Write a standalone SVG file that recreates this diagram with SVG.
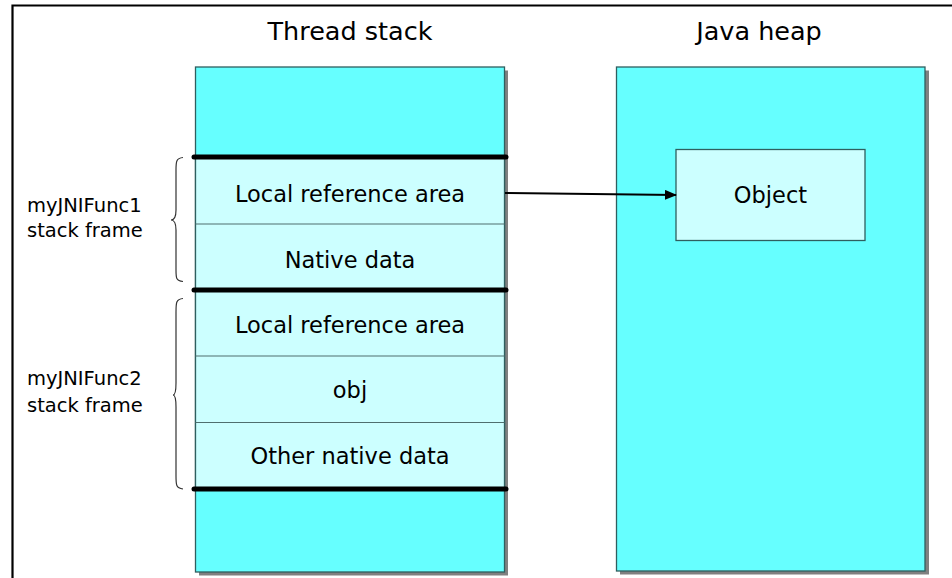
<svg xmlns="http://www.w3.org/2000/svg" width="952" height="578" viewBox="0 0 952 578">
<style>
.t{font-family:"DejaVu Sans",Verdana,sans-serif;fill:#000}
.title{font-size:25.5px;text-anchor:middle}
.cell{font-size:22.5px;text-anchor:middle}
.lab{font-size:19.5px}
.box{stroke:#2f5f5f;stroke-width:1.3}
.dark{fill:#66ffff}
.light{fill:#ccffff}
.shadow{fill:#808080}
.div{stroke:#4f6f6f;stroke-width:1.2}
.thick{stroke:#000;stroke-width:5;stroke-linecap:round}
.brace{fill:none;stroke:#333;stroke-width:1.2}
</style>
<defs>
<marker id="ah" markerWidth="12" markerHeight="10" refX="11" refY="5" orient="auto" markerUnits="userSpaceOnUse">
<path d="M0,0 L12,5 L0,10 z" fill="#000"/>
</marker>
</defs>
<g id="frame">
<path d="M12.5,578 V5.5 H952" fill="none" stroke="#000" stroke-width="2.2"/>
</g>
<g id="titles">
<text class="t title" x="350" y="39.5">Thread stack</text>
<text class="t title" x="759" y="39.5">Java heap</text>
</g>
<g id="thread-stack">
<rect class="shadow" x="199" y="70.5" width="309" height="505"/>
<rect class="box dark" x="195.5" y="67" width="309" height="505"/>
</g>
<g id="frame1">
<rect class="box light" x="195.5" y="157" width="309" height="133"/>
<line class="div" x1="195.5" y1="224" x2="504.5" y2="224"/>
<text class="t cell" x="350" y="202">Local reference area</text>
<text class="t cell" x="350" y="268">Native data</text>
<path class="brace" d="M183,157.5 C176,158 176,162 176,170 V210 C176,216 174,220 171,220 C174,220 176,224 176,230 V270 C176,278 176,281 183,281.5"/>
<text class="t lab" x="27" y="212">myJNIFunc1</text>
<text class="t lab" x="27" y="237">stack frame</text>
</g>
<g id="frame2">
<rect class="box light" x="195.5" y="290" width="309" height="199"/>
<line class="div" x1="195.5" y1="356" x2="504.5" y2="356"/>
<line class="div" x1="195.5" y1="422.5" x2="504.5" y2="422.5"/>
<text class="t cell" x="350" y="333">Local reference area</text>
<text class="t cell" x="350" y="398">obj</text>
<text class="t cell" x="350" y="464">Other native data</text>
<path class="brace" d="M183,298.5 C176,299 176,303 176,312 V383 C176,390 175,395 173,395 C175,395 176,400 176,407 V476 C176,485 176,488 183,489"/>
<text class="t lab" x="27" y="385">myJNIFunc2</text>
<text class="t lab" x="27" y="412">stack frame</text>
</g>
<g id="separators">
<line class="thick" x1="194" y1="157" x2="506" y2="157"/>
<line class="thick" x1="194" y1="290" x2="506" y2="290"/>
<line class="thick" x1="194" y1="489" x2="506" y2="489"/>
</g>
<g id="java-heap">
<rect class="shadow" x="620" y="70.5" width="309" height="504"/>
<rect class="box dark" x="616.5" y="67" width="308.5" height="504"/>
</g>
<g id="object">
<rect class="box light" x="676" y="149.5" width="189" height="91"/>
<text class="t cell" x="770.5" y="203">Object</text>
</g>
<g id="connectors">
<line x1="505" y1="193" x2="676" y2="195" stroke="#000" stroke-width="2" marker-end="url(#ah)"/>
</g>
</svg>
